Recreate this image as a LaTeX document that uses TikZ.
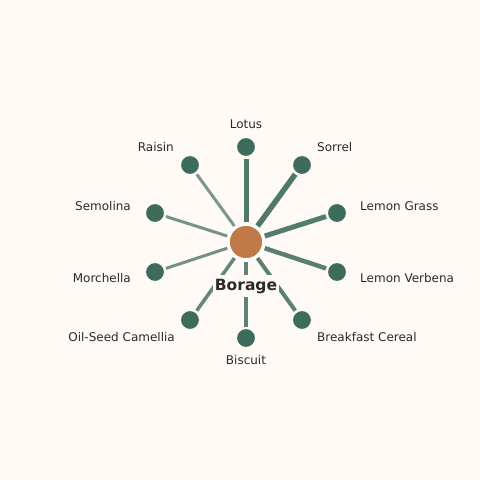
\documentclass[tikz,border=0pt]{standalone}
\usepackage{fontspec}
\setmainfont{DejaVu Sans}
\definecolor{bg}{HTML}{FFFAF6}
\definecolor{leaf}{HTML}{3D6B5C}
\definecolor{hub}{HTML}{C07A48}
\definecolor{ink}{HTML}{2A2A2A}
\tikzset{
  leafnode/.style={circle,fill=leaf,draw=bg,line width=1pt,minimum size=19pt,inner sep=0pt},
  hubnode/.style={circle,fill=hub,draw=white,line width=1.5pt,minimum size=34pt,inner sep=0pt},
  lbl/.style={text=ink,font=\fontsize{12pt}{14pt}\selectfont,inner sep=0pt},
  spoke/.style={draw=leaf,line cap=butt,shorten <=2pt,shorten >=1.5pt},
  hublabel/.style={fill=bg,inner xsep=1.5pt,inner ysep=0pt,text height=15pt,text depth=7pt,
    font=\bfseries\fontsize{15.5pt}{17pt}\selectfont,text=ink,anchor=base},
}
\begin{document}
\begin{tikzpicture}[x=1pt,y=-1pt]
\fill[bg] (0,0) rectangle (480,480);
\useasboundingbox (0,0) rectangle (480,480);
\node[hubnode] (hub) at (246,242) {};
\node[leafnode] (n1) at (246,147) {};
\node[leafnode] (n2) at (302,165) {};
\node[leafnode] (n3) at (337,213) {};
\node[leafnode] (n4) at (337,272) {};
\node[leafnode] (n5) at (302,320) {};
\node[leafnode] (n6) at (246,338) {};
\node[leafnode] (n7) at (190,320) {};
\node[leafnode] (n8) at (155,272) {};
\node[leafnode] (n9) at (155,213) {};
\node[leafnode] (n10) at (190,165) {};
\foreach \n/\w/\o in {n1/5/0.9, n2/5.5/0.9, n3/5/0.88, n4/4.5/0.86, n5/4/0.84, n6/4/0.82, n7/3.5/0.8, n8/3/0.72, n9/3/0.7, n10/3/0.68}{
  \draw[spoke,line width=\w pt,draw opacity=\o] (hub) -- (\n);
}
\node[hublabel] (lab) at (246,290) {Borage};
\node[lbl] (t1) at (246,124) {Lotus};
\node[lbl,anchor=west] (t2) at (317,147) {Sorrel};
\node[lbl,anchor=west] (t3) at (360,206) {Lemon Grass};
\node[lbl,anchor=west] (t4) at (360,278) {Lemon Verbena};
\node[lbl,anchor=west] (t5) at (317,337) {Breakfast Cereal};
\node[lbl] (t6) at (246,360) {Biscuit};
\node[lbl,anchor=east] (t7) at (175,337) {Oil-Seed Camellia};
\node[lbl,anchor=east] (t8) at (131,278) {Morchella};
\node[lbl,anchor=east] (t9) at (131,206) {Semolina};
\node[lbl,anchor=east] (t10) at (174,147) {Raisin};
\end{tikzpicture}
\end{document}
